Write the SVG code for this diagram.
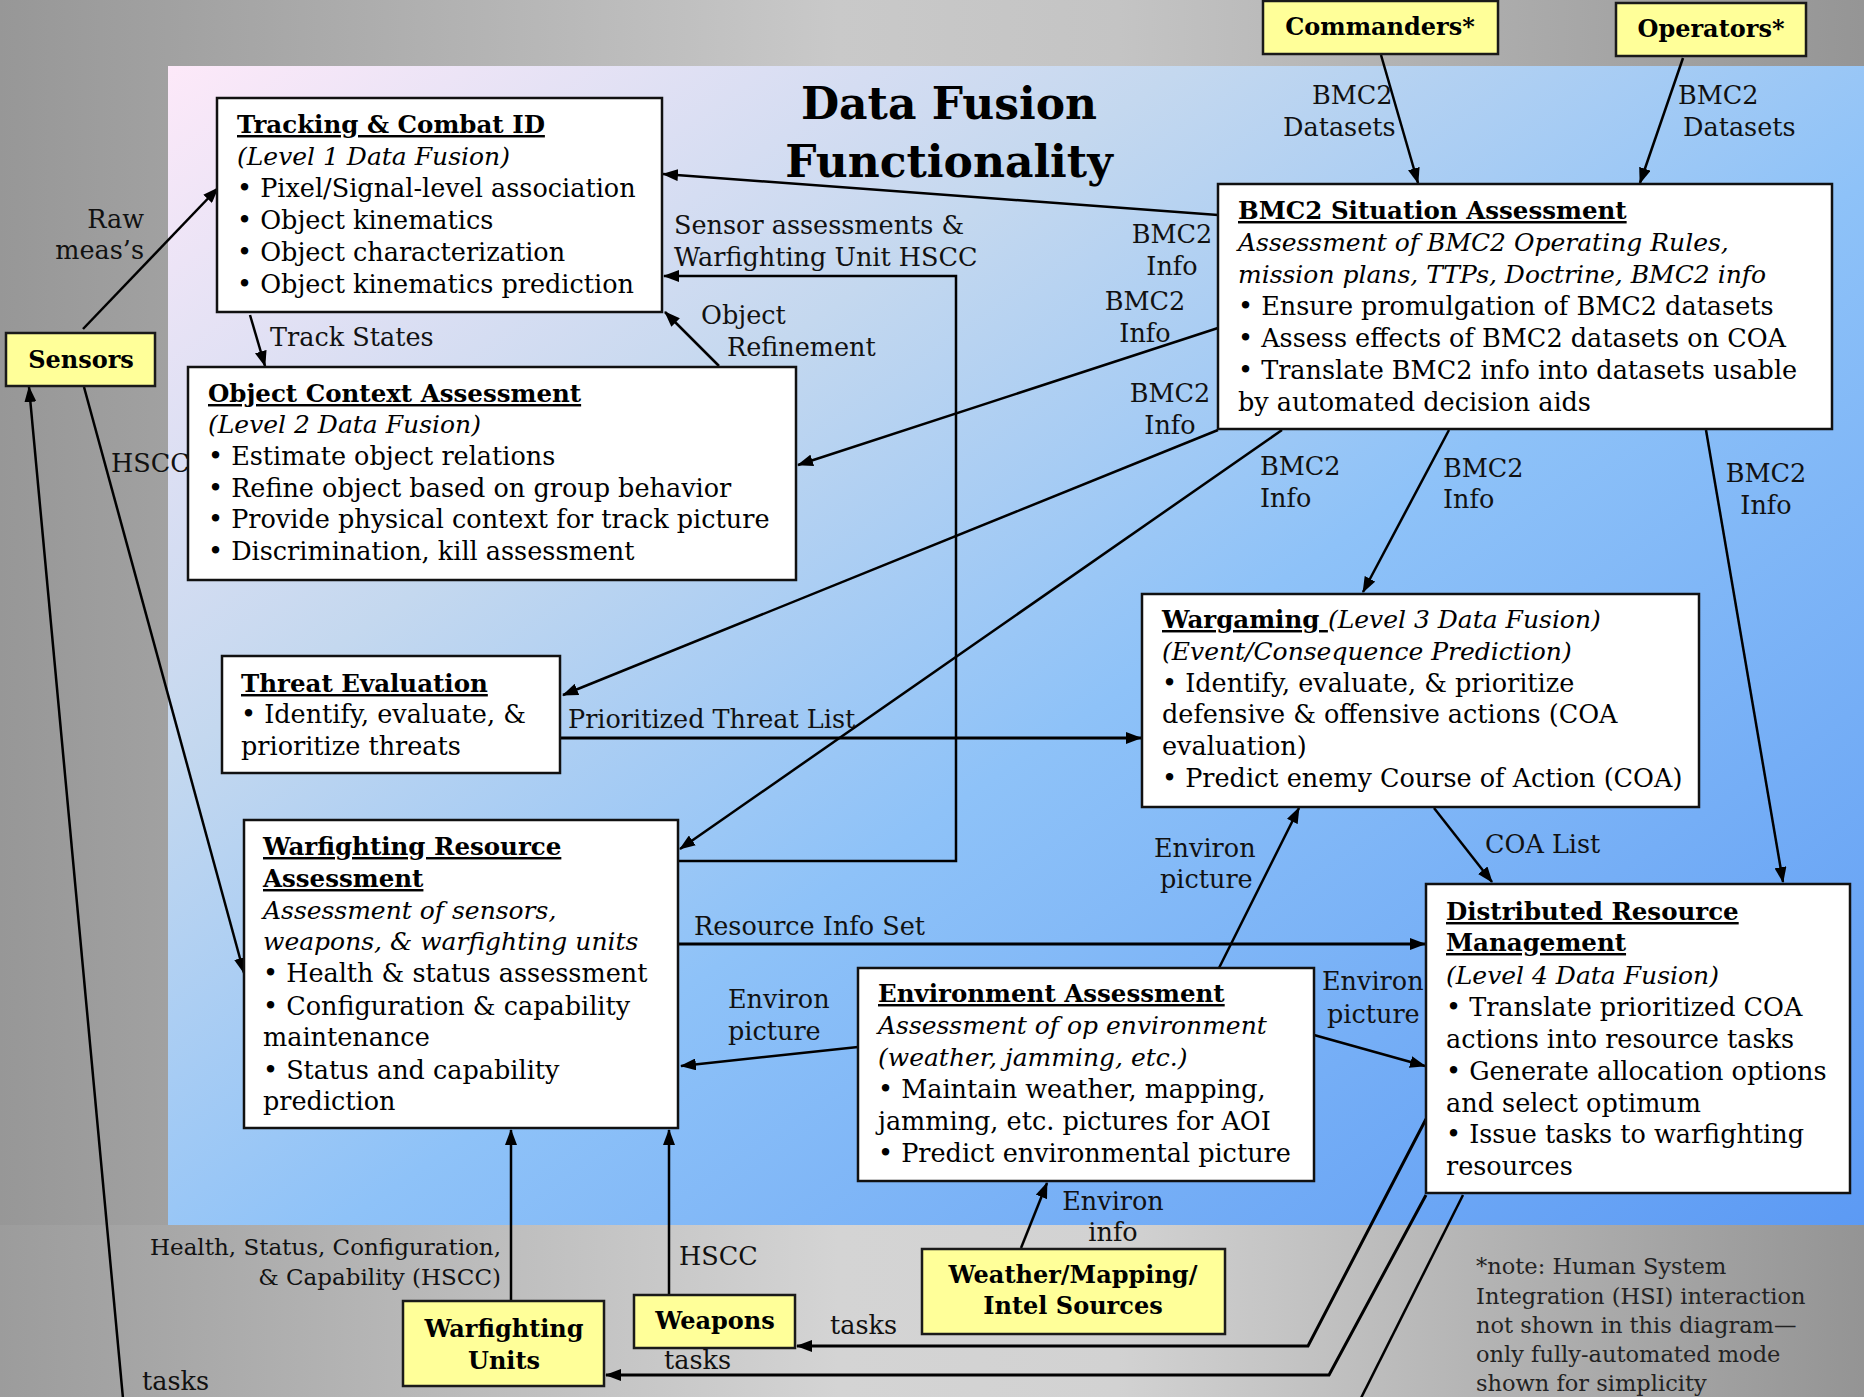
<svg xmlns="http://www.w3.org/2000/svg" width="1864" height="1397" viewBox="0 0 1864 1397">
  <defs>
    <linearGradient id="bgGray" x1="0" y1="0" x2="1" y2="0">
      <stop offset="0" stop-color="#979797"/>
      <stop offset="0.45" stop-color="#c9c9c9"/>
      <stop offset="0.6" stop-color="#c4c4c4"/>
      <stop offset="1" stop-color="#959595"/>
    </linearGradient>
    <linearGradient id="bottomGray" x1="0" y1="0" x2="1" y2="0">
      <stop offset="0" stop-color="#9c9c9c"/>
      <stop offset="0.45" stop-color="#d4d4d4"/>
      <stop offset="0.6" stop-color="#d2d2d2"/>
      <stop offset="1" stop-color="#949494"/>
    </linearGradient>
    <linearGradient id="panel" x1="0" y1="0" x2="1" y2="1">
      <stop offset="0" stop-color="#fde9f9"/>
      <stop offset="0.3" stop-color="#c4d8ef"/>
      <stop offset="0.55" stop-color="#8ec2f8"/>
      <stop offset="1" stop-color="#5c9af4"/>
    </linearGradient>
    <marker id="ah" markerWidth="16" markerHeight="12" refX="15" refY="6" orient="auto" markerUnits="userSpaceOnUse">
      <path d="M0,0 L16,6 L0,12 z" fill="#000"/>
    </marker>
    <style>
      text { font-family: "DejaVu Serif", "Liberation Serif", serif; fill: #000; }
      .t { font-size: 25.5px; }
      .b { font-weight: bold; font-size: 24.5px; }
      .u { text-decoration: underline; }
      .i { font-style: italic; font-size: 25px; }
      .lbl { font-size: 25.5px; fill: #111; }
      .sm { font-size: 23px; fill: #111; }
      .note { font-size: 22.5px; fill: #222; }
      .mid { text-anchor: middle; }
      .end { text-anchor: end; }
      .box { fill: #fff; stroke: #111; stroke-width: 2.5; }
      .ybox { fill: #ffff99; stroke: #1a1a1a; stroke-width: 2.5; }
      .yl { font-weight: bold; font-size: 24px; text-anchor: middle; }
      .c { fill: none; stroke: #000; stroke-width: 2.5; marker-end: url(#ah); }
      .c3 { stroke-width: 3; }
      .plain { fill: none; stroke: #000; stroke-width: 2.5; }
    </style>
  </defs>

  <!-- background and central panel -->
  <rect x="0" y="0" width="1864" height="1397" fill="url(#bgGray)"/>
  <rect x="0" y="1225" width="1864" height="172" fill="url(#bottomGray)"/>
  <rect x="168" y="66" width="1696" height="1159" fill="url(#panel)"/>

  <!-- title -->
  <g id="title">
    <text x="949" y="119" class="mid" font-weight="bold" font-size="44">Data Fusion</text>
    <text x="949" y="177" class="mid" font-weight="bold" font-size="44">Functionality</text>
  </g>

  <!-- connectors -->
  <g id="connectors">
    <path class="c" d="M83,329 L218,188"/>
    <path class="c" d="M250,315 L265,366"/>
    <path class="c" d="M719,366 L665,312"/>
    <path class="c" d="M1218,215 L663,174"/>
    <path class="c" d="M678,861 H956 V276 H664"/>
    <path class="c" d="M1218,328 L798,465"/>
    <path class="c" d="M1218,430 L563,695"/>
    <path class="c" d="M1282,430 L680,849"/>
    <path class="c" d="M1449,430 L1363,592"/>
    <path class="c" d="M1706,430 L1783,882"/>
    <path class="c" d="M1381,55 L1418,183"/>
    <path class="c" d="M1683,58 L1640,183"/>
    <path class="c c3" d="M560,738 H1141"/>
    <path class="c" d="M1219,968 L1299,808"/>
    <path class="c" d="M1434,808 L1492,882"/>
    <path class="c c3" d="M678,944 H1425"/>
    <path class="c" d="M858,1047 L681,1066"/>
    <path class="c" d="M1314,1035 L1425,1066"/>
    <path class="c" d="M1021,1248 L1047,1183"/>
    <path class="c" d="M511,1301 V1130"/>
    <path class="c" d="M669,1294 V1130"/>
    <path class="c c3" d="M1426,1119 L1308,1346 H797"/>
    <path class="c c3" d="M1426,1195 L1329,1375 H606"/>
    <path class="plain" d="M1463,1195 L1350,1420"/>
    <path class="c" d="M125,1420 L29,387"/>
    <path class="c" d="M84,387 L244,973"/>

    <!-- connector labels -->
    <text class="lbl end" x="144" y="228">Raw</text>
    <text class="lbl end" x="144" y="259">meas’s</text>
    <text class="lbl" x="270" y="346">Track States</text>
    <text class="lbl" x="701" y="324">Object</text>
    <text class="lbl" x="727" y="356">Refinement</text>
    <text class="lbl" x="674" y="234">Sensor assessments &amp;</text>
    <text class="lbl" x="674" y="266">Warfighting Unit HSCC</text>
    <text class="lbl mid" x="1172" y="243">BMC2</text>
    <text class="lbl mid" x="1172" y="275">Info</text>
    <text class="lbl mid" x="1145" y="310">BMC2</text>
    <text class="lbl mid" x="1145" y="342">Info</text>
    <text class="lbl mid" x="1170" y="402">BMC2</text>
    <text class="lbl mid" x="1170" y="434">Info</text>
    <text class="lbl" x="1260" y="475">BMC2</text>
    <text class="lbl" x="1260" y="507">Info</text>
    <text class="lbl" x="1443" y="477">BMC2</text>
    <text class="lbl" x="1443" y="508">Info</text>
    <text class="lbl mid" x="1766" y="482">BMC2</text>
    <text class="lbl mid" x="1766" y="514">Info</text>
    <text class="lbl" x="1312" y="104">BMC2</text>
    <text class="lbl" x="1283" y="136">Datasets</text>
    <text class="lbl" x="1678" y="104">BMC2</text>
    <text class="lbl" x="1683" y="136">Datasets</text>
    <text class="lbl" x="568" y="728">Prioritized Threat List</text>
    <text class="lbl" x="1154" y="857">Environ</text>
    <text class="lbl" x="1160" y="888">picture</text>
    <text class="lbl" x="1485" y="853">COA List</text>
    <text class="lbl" x="694" y="935">Resource Info Set</text>
    <text class="lbl" x="728" y="1008">Environ</text>
    <text class="lbl" x="728" y="1040">picture</text>
    <text class="lbl" x="1322" y="990">Environ</text>
    <text class="lbl" x="1327" y="1023">picture</text>
    <text class="lbl mid" x="1113" y="1210">Environ</text>
    <text class="lbl mid" x="1113" y="1241">info</text>
    <text class="sm end" x="501" y="1255">Health, Status, Configuration,</text>
    <text class="sm end" x="501" y="1285">&amp; Capability (HSCC)</text>
    <text class="lbl" x="679" y="1265">HSCC</text>
    <text class="lbl" x="111" y="472">HSCC</text>
    <text class="lbl" x="830" y="1334">tasks</text>
    <text class="lbl" x="664" y="1369">tasks</text>
    <text class="lbl" x="142" y="1390">tasks</text>
  </g>

  <!-- Level 1 -->
  <g id="tracking">
    <rect class="box" x="217" y="98" width="445" height="214"/>
    <text class="b u" x="237" y="133">Tracking &amp; Combat ID</text>
    <text class="t i" x="237" y="165">(Level 1 Data Fusion)</text>
    <text class="t" x="237" y="197">• Pixel/Signal-level association</text>
    <text class="t" x="237" y="229">• Object kinematics</text>
    <text class="t" x="237" y="261">• Object characterization</text>
    <text class="t" x="237" y="293">• Object kinematics prediction</text>
  </g>

  <!-- Level 2 -->
  <g id="object-context">
    <rect class="box" x="188" y="367" width="608" height="213"/>
    <text class="b u" x="208" y="402">Object Context Assessment</text>
    <text class="t i" x="208" y="433">(Level 2 Data Fusion)</text>
    <text class="t" x="208" y="465">• Estimate object relations</text>
    <text class="t" x="208" y="497">• Refine object based on group behavior</text>
    <text class="t" x="208" y="528">• Provide physical context for track picture</text>
    <text class="t" x="208" y="560">• Discrimination, kill assessment</text>
  </g>

  <g id="threat-evaluation">
    <rect class="box" x="222" y="656" width="338" height="117"/>
    <text class="b u" x="241" y="692">Threat Evaluation</text>
    <text class="t" x="241" y="723">• Identify, evaluate, &amp;</text>
    <text class="t" x="241" y="755">prioritize threats</text>
  </g>

  <g id="warfighting-resource">
    <rect class="box" x="244" y="820" width="434" height="308"/>
    <text class="b u" x="263" y="855">Warfighting Resource</text>
    <text class="b u" x="263" y="887">Assessment</text>
    <text class="t i" x="263" y="919">Assessment of sensors,</text>
    <text class="t i" x="263" y="950">weapons, &amp; warfighting units</text>
    <text class="t" x="263" y="982">• Health &amp; status assessment</text>
    <text class="t" x="263" y="1015">• Configuration &amp; capability</text>
    <text class="t" x="263" y="1046">maintenance</text>
    <text class="t" x="263" y="1079">• Status and capability</text>
    <text class="t" x="263" y="1110">prediction</text>
  </g>

  <g id="bmc2-situation">
    <rect class="box" x="1218" y="184" width="614" height="245"/>
    <text class="b u" x="1238" y="219">BMC2 Situation Assessment</text>
    <text class="t i" x="1238" y="251">Assessment of BMC2 Operating Rules,</text>
    <text class="t i" x="1238" y="283">mission plans, TTPs, Doctrine, BMC2 info</text>
    <text class="t" x="1238" y="315">• Ensure promulgation of BMC2 datasets</text>
    <text class="t" x="1238" y="347">• Assess effects of BMC2 datasets on COA</text>
    <text class="t" x="1238" y="379">• Translate BMC2 info into datasets usable</text>
    <text class="t" x="1238" y="411">by automated decision aids</text>
  </g>

  <!-- Level 3 -->
  <g id="wargaming">
    <rect class="box" x="1142" y="594" width="557" height="213"/>
    <text x="1162" y="628"><tspan class="b u">Wargaming </tspan><tspan class="t i">(Level 3 Data Fusion)</tspan></text>
    <text class="t i" x="1162" y="660">(Event/Consequence Prediction)</text>
    <text class="t" x="1162" y="692">• Identify, evaluate, &amp; prioritize</text>
    <text class="t" x="1162" y="723">defensive &amp; offensive actions (COA</text>
    <text class="t" x="1162" y="755">evaluation)</text>
    <text class="t" x="1162" y="787">• Predict enemy Course of Action (COA)</text>
  </g>

  <g id="environment">
    <rect class="box" x="858" y="968" width="456" height="213"/>
    <text class="b u" x="878" y="1002">Environment Assessment</text>
    <text class="t i" x="878" y="1034">Assessment of op environment</text>
    <text class="t i" x="878" y="1066">(weather, jamming, etc.)</text>
    <text class="t" x="878" y="1098">• Maintain weather, mapping,</text>
    <text class="t" x="878" y="1130">jamming, etc. pictures for AOI</text>
    <text class="t" x="878" y="1162">• Predict environmental picture</text>
  </g>

  <!-- Level 4 -->
  <g id="distributed-resource">
    <rect class="box" x="1426" y="884" width="424" height="309"/>
    <text class="b u" x="1446" y="920">Distributed Resource</text>
    <text class="b u" x="1446" y="951">Management</text>
    <text class="t i" x="1446" y="984">(Level 4 Data Fusion)</text>
    <text class="t" x="1446" y="1016">• Translate prioritized COA</text>
    <text class="t" x="1446" y="1048">actions into resource tasks</text>
    <text class="t" x="1446" y="1080">• Generate allocation options</text>
    <text class="t" x="1446" y="1112">and select optimum</text>
    <text class="t" x="1446" y="1143">• Issue tasks to warfighting</text>
    <text class="t" x="1446" y="1175">resources</text>
  </g>

  <!-- external actors -->
  <g id="commanders">
    <rect class="ybox" x="1263" y="1" width="235" height="53"/>
    <text class="yl" x="1380" y="35">Commanders*</text>
  </g>
  <g id="operators">
    <rect class="ybox" x="1616" y="3" width="190" height="53"/>
    <text class="yl" x="1711" y="37">Operators*</text>
  </g>
  <g id="sensors">
    <rect class="ybox" x="6" y="333" width="149" height="53"/>
    <text class="yl" x="81" y="368">Sensors</text>
  </g>
  <g id="warfighting-units">
    <rect class="ybox" x="403" y="1301" width="201" height="85"/>
    <text class="yl" x="504" y="1337">Warfighting</text>
    <text class="yl" x="504" y="1369">Units</text>
  </g>
  <g id="weapons">
    <rect class="ybox" x="634" y="1295" width="161" height="53"/>
    <text class="yl" x="715" y="1329">Weapons</text>
  </g>
  <g id="weather-sources">
    <rect class="ybox" x="922" y="1249" width="303" height="85"/>
    <text class="yl" x="1073" y="1283">Weather/Mapping/</text>
    <text class="yl" x="1073" y="1314">Intel Sources</text>
  </g>

  <!-- footnote -->
  <g id="note">
    <text class="note" x="1476" y="1274">*note:  Human System</text>
    <text class="note" x="1476" y="1304">Integration (HSI) interaction</text>
    <text class="note" x="1476" y="1333">not shown in this diagram—</text>
    <text class="note" x="1476" y="1362">only fully-automated mode</text>
    <text class="note" x="1476" y="1391">shown for simplicity</text>
  </g>
</svg>
